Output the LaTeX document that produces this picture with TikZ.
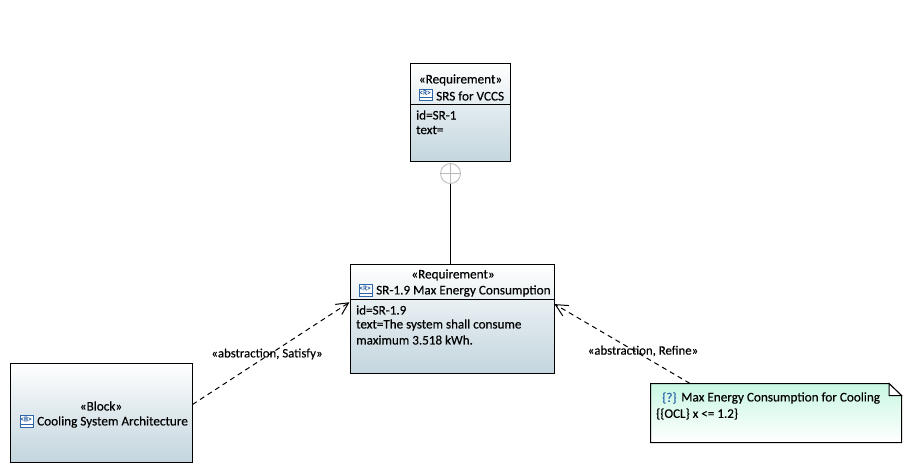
\documentclass[tikz,border=0pt]{standalone}
\usepackage{fontspec}
\setmainfont{Carlito}[FakeBold=0.25]
\usetikzlibrary{arrows.meta}
\definecolor{boxend}{HTML}{C4D6DE}
\definecolor{noteend}{HTML}{C8F7E2}
\definecolor{iconblue}{HTML}{2F66A8}
\tikzset{
  umlbox/.style={draw=black,line width=1pt,rectangle,inner sep=0pt,top color=white,bottom color=boxend,middle color=white!45!boxend},
  lab/.style={inner sep=0pt,font=\fontsize{13.2}{15}\selectfont,text=black},
  small/.style={inner sep=0pt,font=\fontsize{13.1}{15}\selectfont,text=black},
  conn/.style={inner sep=0pt,font=\fontsize{12.8}{15}\selectfont,text=black},
  dep/.style={draw=black,line width=1pt,dash pattern=on 5pt off 4pt,-{Straight Barb[length=12pt,width=12pt,line width=1pt]}},
  icon/.style={draw=iconblue,line width=0.9pt,rectangle,inner sep=0pt,minimum width=13pt,minimum height=11.5pt,fill=white},
  icontext/.style={inner sep=0pt,text=iconblue,font=\fontsize{7.5}{7}\selectfont}
}
\begin{document}
\begin{tikzpicture}[x=1pt,y=-1pt]
\useasboundingbox (0,0) rectangle (912,473);
% boxes
\node[umlbox,minimum width=100pt,minimum height=98pt] (srs) at (460,113) {};
\node[umlbox,minimum width=204pt,minimum height=109pt] (req) at (452,318.5) {};
\node[umlbox,minimum width=182pt,minimum height=99pt] (block) at (101,412.5) {};
% note
\coordinate (n1) at (650.5,383.5);
\coordinate (n2) at (889,383.5);
\coordinate (n3) at (901.5,395.5);
\coordinate (n4) at (901.5,442.5);
\coordinate (n5) at (650.5,442.5);
\coordinate (n6) at (889,395.5);
\draw[line width=1pt,top color=noteend,bottom color=white] (n1) -- (n2) -- (n3) -- (n4) -- (n5) -- cycle;
\fill[white] (n2) -- (n3) -- (n6) -- cycle;
\draw[line width=1pt] (n2) -- (n3) -- (n6) -- cycle;
\node[minimum width=251pt,minimum height=59pt,inner sep=0pt] (note) at (776,413) {};
% dividers
\coordinate (d1) at (410,104.5);
\coordinate (d2) at (511,104.5);
\draw[line width=1pt] (d1) -- (d2);
\coordinate (d3) at (350,299.5);
\coordinate (d4) at (555,299.5);
\draw[line width=1pt] (d3) -- (d4);
% containment
\node[circle,draw=black!28,line width=0.8pt,fill=white,minimum size=20pt,inner sep=0pt] (circ) at (450.5,173.5) {};
\draw[black!28,line width=0.8pt] (circ.west) -- (circ.east) (circ.north) -- (circ.south);
\draw[line width=1pt] (circ.south) -- (circ.south |- req.north);
% dependencies
\draw[dep] (block.5.9) -- (req.171.9);
\draw[dep] (note.161) -- (req.8);
% texts SRS
\node[lab] (srs1) at (460.5,80) {«Requirement»};
\node[icon,anchor=west] (srsi) at (418.5,95) {};
\node[icontext] (srsit) at (425,92.5) {<R>};
\coordinate (si1) at (srsi.west |- 0,97.5);
\draw[iconblue,line width=.8pt] (si1) -- (si1 -| srsi.east);
\node[lab,anchor=west] (srs2) at (436,96) {SRS for VCCS};
\node[small,anchor=west] (srs3) at (416,115) {id=SR-1};
\node[small,anchor=west] (srs4) at (416,130) {text=};
% texts Req
\node[lab] (r1) at (453,275) {«Requirement»};
\node[icon,anchor=west] (ri) at (358.5,290.5) {};
\node[icontext] (rit) at (365,288) {<R>};
\coordinate (ri1) at (ri.west |- 0,293);
\draw[iconblue,line width=.8pt] (ri1) -- (ri1 -| ri.east);
\node[lab,anchor=west] (r2) at (376,291) {SR-1.9 Max Energy Consumption};
\node[small,anchor=west] (r3) at (356,310) {id=SR-1.9};
\node[small,anchor=west] (r4) at (356,325) {text=The system shall consume};
\node[small,anchor=west] (r5) at (356,340) {maximum 3.518 kWh.};
% texts block
\node[lab] (b1) at (101,406) {«Block»};
\node[icon,anchor=west] (bi) at (19.5,421.5) {};
\node[icontext] (bit) at (26,419) {<B>};
\coordinate (bi1) at (bi.west |- 0,424);
\draw[iconblue,line width=.8pt] (bi1) -- (bi1 -| bi.east);
\node[lab,anchor=west] (b2) at (37,422) {Cooling System Architecture};
% texts note
\node[lab,anchor=west,text=iconblue] (n7) at (662,398) {\{?\}};
\node[lab,anchor=west] (n8) at (681,398) {Max Energy Consumption for Cooling};
\node[small,anchor=west] (n9) at (656,414) {\{\{OCL\} x <= 1.2\}};
% labels
\node[conn] (l1) at (267,354) {«abstraction, Satisfy»};
\node[conn] (l2) at (643,351) {«abstraction, Refine»};
\end{tikzpicture}
\end{document}
